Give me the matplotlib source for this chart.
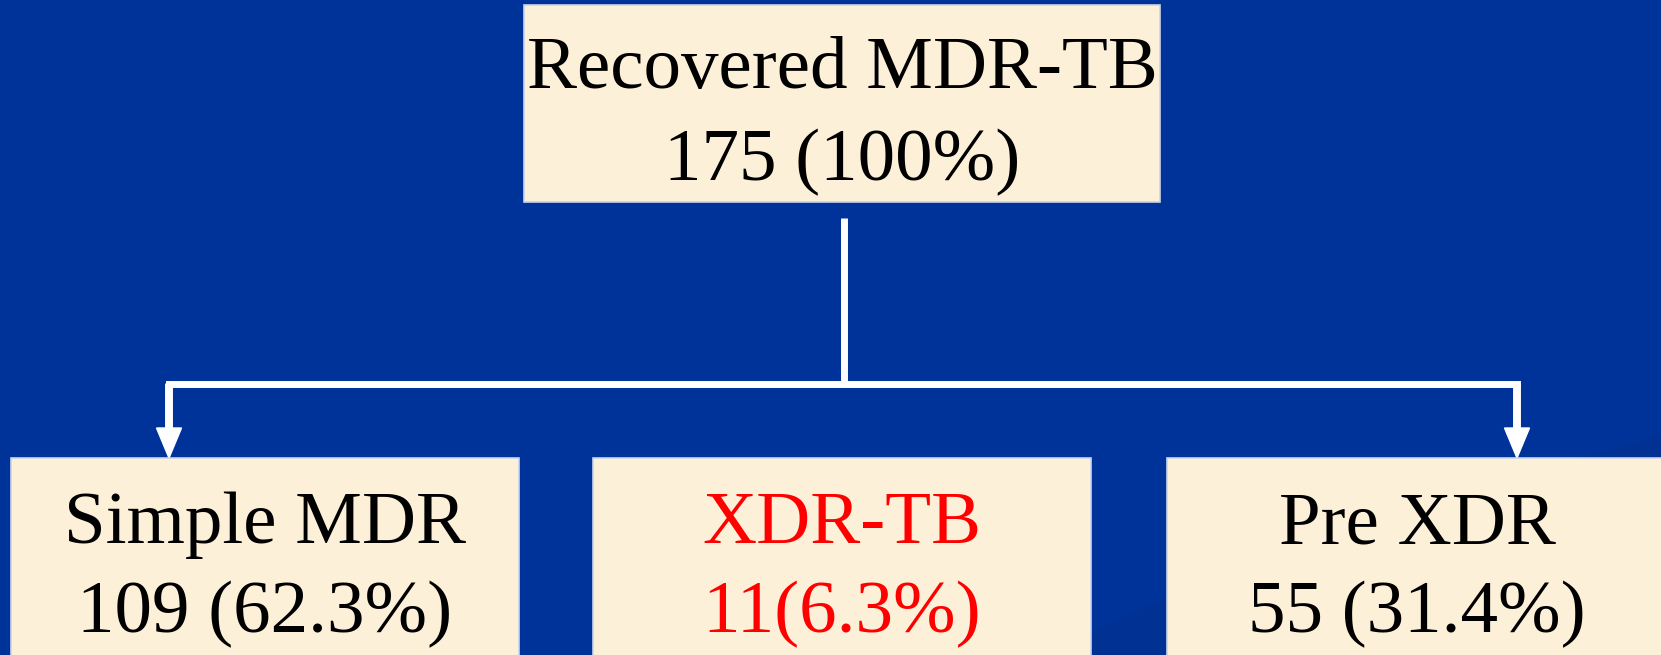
import matplotlib
matplotlib.use('Agg')
import matplotlib.pyplot as plt
from matplotlib.patches import Rectangle, Ellipse

# ── data ─────────────────────────────────────────────────────────────────────
top_label = 'Recovered MDR-TB'
top_count = 175
top_pct = '100%'

child_labels = ['Simple MDR', 'XDR-TB', 'Pre XDR']
child_counts = [109, 11, 55]
child_pcts = ['62.3%', '6.3%', '31.4%']
child_colors = ['black', '#ff0000', 'black']
child_text = ['{} ({})', '{}({})', '{} ({})']

# ── layout (pixels) ──────────────────────────────────────────────────────────
W, H = 1661, 655
BG = '#003399'
BOX = '#fcf0d8'
EDGE = '#c9d4ee'

fig = plt.figure(figsize=(W / 100, H / 100), dpi=100)
ax = fig.add_axes([0, 0, 1, 1])
ax.set_xlim(0, W)
ax.set_ylim(H, 0)
ax.axis('off')
fig.patch.set_facecolor(BG)
ax.set_facecolor(BG)

# faint darker swooshes in the background, lower right
for cx, cy, w, h, ang in [(1700, 560, 1500, 260, -14), (1800, 640, 1100, 180, -12)]:
    ax.add_patch(Ellipse((cx, cy), w, h, angle=ang, facecolor='#002f8c',
                         edgecolor='none', alpha=0.45, zorder=0))

font = dict(family=['Liberation Serif', 'DejaVu Serif'], fontsize=54)

# top box
top_box = (524, 5, 636, 197)
ax.add_patch(Rectangle(top_box[:2], top_box[2], top_box[3], facecolor=BOX,
                       edgecolor=EDGE, linewidth=1.2, zorder=2))
tx = top_box[0] + top_box[2] / 2
ax.text(tx, 88, top_label, ha='center', va='baseline', color='black', **font)
ax.text(tx, 180, f'{top_count} ({top_pct})', ha='center', va='baseline',
        color='black', **font)

# connectors
lw = 5
ax.plot([844, 844], [218, 384], color='white', lw=lw, solid_capstyle='butt', zorder=1)
child_x = [169, 844, 1517]
ax.plot([child_x[0], child_x[-1]], [384, 384], color='white', lw=lw,
        solid_capstyle='projecting', zorder=1)
for x in (child_x[0], child_x[-1]):
    ax.arrow(x, 384, 0, 74, width=6.5, head_width=25, head_length=30,
             length_includes_head=True, color='white', zorder=1)

# bottom boxes: (left, top, drawn width, text-centre width)
# the third box runs off the right edge of the slide
boxes = [(11, 458, 508, 508), (593, 458, 498, 498), (1167, 458, 530, 500)]
for (x0, y0, bw, tw), lab, cnt, pct, col, fmt in zip(
        boxes, child_labels, child_counts, child_pcts, child_colors, child_text):
    ax.add_patch(Rectangle((x0, y0), bw, 260, facecolor=BOX, edgecolor=EDGE,
                           linewidth=1.2, zorder=2))
    cx = x0 + tw / 2
    ax.text(cx, 543, lab, ha='center', va='baseline', color=col, **font)
    ax.text(cx, 632, fmt.format(cnt, pct), ha='center', va='baseline',
            color=col, **font)

fig.savefig('out.png', dpi=100, facecolor=BG)
